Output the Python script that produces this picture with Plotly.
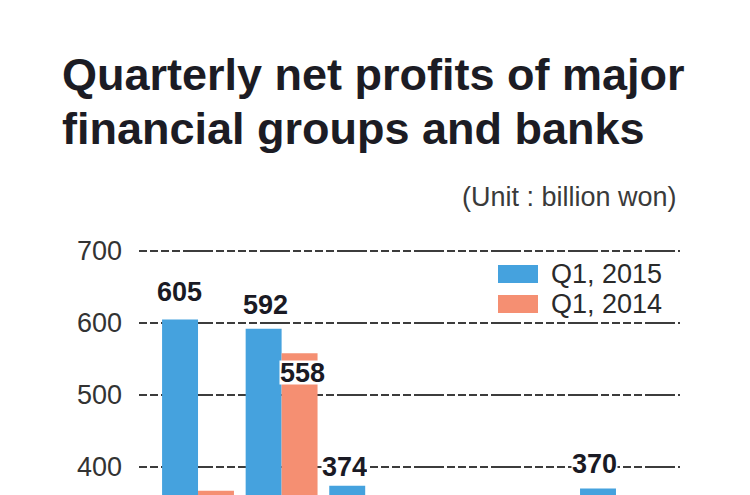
import plotly.graph_objects as go

# ---- data ----
categories = ["KB Financial", "Shinhan Financial", "Hana Financial",
              "Industrial Bank", "Woori Bank", "Shinhan Bank"]
q1_2015 = [605, 592, 374, 315, 330, 370]
q1_2014 = [367, 558, 270, 290, 300, 350]
series_names = ["Q1, 2015", "Q1, 2014"]
y_ticks = [400, 500, 600, 700]

BLUE = "#45a2de"
ORANGE = "#f58f72"
FONT = "Liberation Sans, Arial, Helvetica, sans-serif"

fig = go.Figure()
fig.add_trace(go.Bar(x=categories, y=q1_2015, name=series_names[0],
                     marker=dict(color=BLUE, line=dict(width=0)), showlegend=False))
fig.add_trace(go.Bar(x=categories, y=q1_2014, name=series_names[1],
                     marker=dict(color=ORANGE, line=dict(width=0)), showlegend=False))

# plot-area geometry (pixels)
L, R, T, B = 139, 70, 240, 0
W, H = 750, 495
pw, ph = W - L - R, H - T - B
px = lambda x: (x - L) / pw
py = lambda y: (H - B - y) / ph

annotations = []
# value labels: (category index, series index, x shift, y shift, anchor)
label_style = [
    (0, 0, -19, 15, "bottom"),
    (1, 0, -16, 12, "bottom"),
    (1, 1, 21, -19, "middle"),
    (2, 0, -21, 7, "bottom"),
    (5, 0, -21, 13, "bottom"),
]
for (i, s, dx, dy, anc) in label_style:
    val = [q1_2015, q1_2014][s][i]
    annotations.append(dict(
        x=categories[i], y=val, xref="x", yref="y",
        text=f"<b>{val}</b>", showarrow=False,
        xshift=dx, yanchor=anc, yshift=dy,
        height=23, valign="middle",
        bgcolor="white" if i >= 1 else "rgba(0,0,0,0)",
        borderpad=0,
        font=dict(family=FONT, size=27, color="#1a1a24"),
    ))

# title
annotations.append(dict(text="<b>Quarterly net profits of major</b>", x=px(60), y=py(74),
                        xref="paper", yref="paper", xanchor="left", yanchor="middle",
                        showarrow=False, font=dict(family=FONT, size=45, color="#1c1c24")))
annotations.append(dict(text="<b>financial groups and banks</b>", x=px(60), y=py(128),
                        xref="paper", yref="paper", xanchor="left", yanchor="middle",
                        showarrow=False, font=dict(family=FONT, size=45, color="#1c1c24")))
annotations.append(dict(text="(Unit : billion won)", x=px(679), y=py(197),
                        xref="paper", yref="paper", xanchor="right", yanchor="middle",
                        showarrow=False, font=dict(family=FONT, size=27, color="#3a3a3a")))

# legend
shapes = []
for k, (name, col) in enumerate(zip(series_names, [BLUE, ORANGE])):
    yc = 274 + 30 * k
    shapes.append(dict(type="rect", xref="paper", yref="paper",
                       x0=px(498), x1=px(538), y0=py(yc - 9), y1=py(yc + 9),
                       fillcolor=col, line=dict(width=0)))
    annotations.append(dict(text=name, x=px(549), y=py(yc), xref="paper", yref="paper",
                            xanchor="left", yanchor="middle", showarrow=False,
                            font=dict(family=FONT, size=27, color="#2a2a2a")))

fig.update_layout(
    width=W, height=H,
    margin=dict(l=L, r=R, t=T, b=B, pad=0),
    paper_bgcolor="white", plot_bgcolor="white",
    barmode="group", bargap=0.14, bargroupgap=0,
    annotations=annotations, shapes=shapes,
    xaxis=dict(range=[-0.706, 5.766], showticklabels=False, showgrid=False,
               zeroline=False, showline=False, fixedrange=True),
    yaxis=dict(range=[361.1, 715.3], tickvals=y_ticks, showgrid=True,
               gridcolor="#3c3c3c", gridwidth=1.5,
               griddash="8px,3px,8px,3px,8px,3px,8px,3px,30px,3px",
               zeroline=False, showline=False, ticks="",
               ticklabelstandoff=16,
               tickfont=dict(family=FONT, size=27, color="#333333"), fixedrange=True),
    showlegend=False,
)
fig.update_traces(cliponaxis=True)
fig.write_html("out.html")
